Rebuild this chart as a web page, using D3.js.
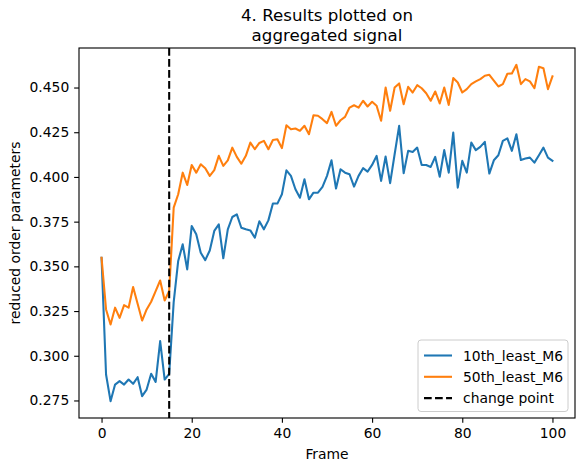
<!DOCTYPE html>
<html>
<head>
<meta charset="utf-8">
<script src="https://cdn.jsdelivr.net/npm/d3@7"></script>
<style>
  body { margin: 0; background: #fff; }
  svg { display: block; font-family: "DejaVu Sans", sans-serif; }
</style>
</head>
<body>
<svg id="chart" width="585" height="470"></svg>
<script>
const titleLines = ["4. Results plotted on", "aggregated signal"];
const xLabel = "Frame";
const yLabel = "reduced order parameters";
const seriesNames = ["10th_least_M6", "50th_least_M6"];
const seriesColors = ["#1f77b4", "#ff7f0e"];
const changePoint = 15;
const changeLabel = "change point";
const xTicks = [0, 20, 40, 60, 80, 100];
const yTicks = [0.275, 0.300, 0.325, 0.350, 0.375, 0.400, 0.425, 0.450];

const tenth = [
  0.3548, 0.2895, 0.2746, 0.2839, 0.2858, 0.2839, 0.2867, 0.2843, 0.2880, 0.2774,
  0.2811, 0.2899, 0.2854, 0.3082, 0.2867, 0.2899, 0.3300, 0.3530, 0.3623, 0.3483,
  0.3726, 0.3679, 0.3576, 0.3535, 0.3589, 0.3698, 0.3735, 0.3545, 0.3707, 0.3776,
  0.3791, 0.3716, 0.3707, 0.3701, 0.3660, 0.3752, 0.3707, 0.3757, 0.3851, 0.3851,
  0.3903, 0.4037, 0.4006, 0.3931, 0.3884, 0.3987, 0.3875, 0.3912, 0.3912, 0.3944,
  0.4006, 0.4093, 0.3935, 0.4043, 0.4024, 0.4015, 0.3946, 0.4006, 0.4049, 0.4030,
  0.4067, 0.4118, 0.3978, 0.4114, 0.3965, 0.4127, 0.4286, 0.4021, 0.4146, 0.4140,
  0.4164, 0.4067, 0.4067, 0.4056, 0.4112, 0.4001, 0.4150, 0.4024, 0.4248, 0.3940,
  0.4090, 0.4024, 0.4192, 0.4150, 0.4168, 0.4196, 0.4019, 0.4093, 0.4121, 0.4202,
  0.4216, 0.4146, 0.4239, 0.4095, 0.4103, 0.4108, 0.4080, 0.4121, 0.4164, 0.4108,
  0.4090
];
const fiftieth = [
  0.3548, 0.3259, 0.3175, 0.3269, 0.3212, 0.3283, 0.3269, 0.3384, 0.3291, 0.3197,
  0.3259, 0.3302, 0.3362, 0.3421, 0.3309, 0.3362, 0.3828, 0.3903, 0.4024, 0.3955,
  0.4067, 0.4024, 0.4071, 0.4049, 0.4006, 0.4038, 0.4118, 0.4062, 0.4093, 0.4164,
  0.4112, 0.4074, 0.4118, 0.4192, 0.4155, 0.4190, 0.4202, 0.4155, 0.4207, 0.4211,
  0.4161, 0.4289, 0.4267, 0.4271, 0.4258, 0.4286, 0.4239, 0.4345, 0.4342, 0.4323,
  0.4301, 0.4364, 0.4286, 0.4317, 0.4336, 0.4388, 0.4401, 0.4388, 0.4426, 0.4394,
  0.4420, 0.4398, 0.4314, 0.4500, 0.4370, 0.4500, 0.4523, 0.4407, 0.4504, 0.4472,
  0.4513, 0.4496, 0.4468, 0.4426, 0.4478, 0.4411, 0.4500, 0.4403, 0.4553, 0.4528,
  0.4472, 0.4491, 0.4519, 0.4534, 0.4547, 0.4566, 0.4571, 0.4538, 0.4506, 0.4519,
  0.4577, 0.4579, 0.4627, 0.4519, 0.4547, 0.4534, 0.4496, 0.4616, 0.4608, 0.4491,
  0.4562
];
const frames = d3.range(tenth.length);
const allSeries = [tenth, fiftieth];

const svg = d3.select("#chart");
const L = 79, R = 575, T = 48, B = 418;
const fs = 13.89;
const lw = 2.08;
const dash = "7.7,3.33";

const allVals = tenth.concat(fiftieth);
const [ymn, ymx] = d3.extent(allVals);
const pad = (ymx - ymn) * 0.05;
const x = d3.scaleLinear().domain([-5, 105]).range([L, R]);
const y = d3.scaleLinear().domain([ymn - pad, ymx + pad]).range([B, T]);

// lines
const line = d3.line().x((d, i) => x(frames[i])).y(d => y(d));
const g = svg.append("g");
g.append("defs").append("clipPath").attr("id", "clip")
  .append("rect").attr("x", L).attr("y", T).attr("width", R - L).attr("height", B - T);
const plot = g.append("g").attr("clip-path", "url(#clip)");
allSeries.forEach((s, k) => {
  plot.append("path").datum(s).attr("d", line)
    .attr("fill", "none").attr("stroke", seriesColors[k])
    .attr("stroke-width", lw).attr("stroke-linejoin", "round").attr("stroke-linecap", "square");
});
plot.append("line")
  .attr("x1", x(changePoint)).attr("x2", x(changePoint))
  .attr("y1", T).attr("y2", B)
  .attr("stroke", "#000").attr("stroke-width", lw)
  .attr("stroke-dasharray", dash);

// axes
const xAxis = d3.axisBottom(x).tickValues(xTicks).tickSize(4.86).tickPadding(4.86).tickFormat(d3.format("d"));
const yAxis = d3.axisLeft(y).tickValues(yTicks).tickSize(4.86).tickPadding(4.86).tickFormat(d3.format(".3f"));
const gx = svg.append("g").attr("transform", `translate(0,${B})`).call(xAxis);
const gy = svg.append("g").attr("transform", `translate(${L},0)`).call(yAxis);
[gx, gy].forEach(a => {
  a.select(".domain").remove();
  a.selectAll(".tick line").attr("stroke", "#000").attr("stroke-width", 1.11);
  a.selectAll(".tick text").attr("fill", "#000").style("font-size", fs + "px")
   .style("font-family", "'DejaVu Sans', sans-serif");
});

// frame
svg.append("rect").attr("x", L).attr("y", T).attr("width", R - L).attr("height", B - T)
  .attr("fill", "none").attr("stroke", "#000").attr("stroke-width", 1.11);

// labels
svg.append("text").attr("x", (L + R) / 2).attr("y", 459).attr("text-anchor", "middle")
  .style("font-size", fs + "px").text(xLabel);
svg.append("text").attr("transform", `translate(20,${(T + B) / 2}) rotate(-90)`)
  .attr("text-anchor", "middle").style("font-size", fs + "px").text(yLabel);
titleLines.forEach((t, i) => {
  svg.append("text").attr("x", (L + R) / 2).attr("y", 21 + i * 19.5)
    .attr("text-anchor", "middle").style("font-size", "16.67px").text(t);
});

// legend
const lg = svg.append("g");
const lx = 418, ly = 340, lwid = 150, lh = 71.5;
lg.append("rect").attr("x", lx).attr("y", ly).attr("width", lwid).attr("height", lh)
  .attr("rx", 3).attr("fill", "#fff").attr("fill-opacity", 0.8)
  .attr("stroke", "#cccccc").attr("stroke-width", 1);
const entries = [
  {label: seriesNames[0], color: seriesColors[0], dash: null},
  {label: seriesNames[1], color: seriesColors[1], dash: null},
  {label: changeLabel, color: "#000", dash: dash}
];
entries.forEach((e, i) => {
  const cy = ly + 15.5 + i * 21.3;
  lg.append("line").attr("x1", lx + 6).attr("x2", lx + 34).attr("y1", cy).attr("y2", cy)
    .attr("stroke", e.color).attr("stroke-width", lw)
    .attr("stroke-dasharray", e.dash);
  lg.append("text").attr("x", lx + 45).attr("y", cy + 5).style("font-size", fs + "px").text(e.label);
});
</script>
</body>
</html>
